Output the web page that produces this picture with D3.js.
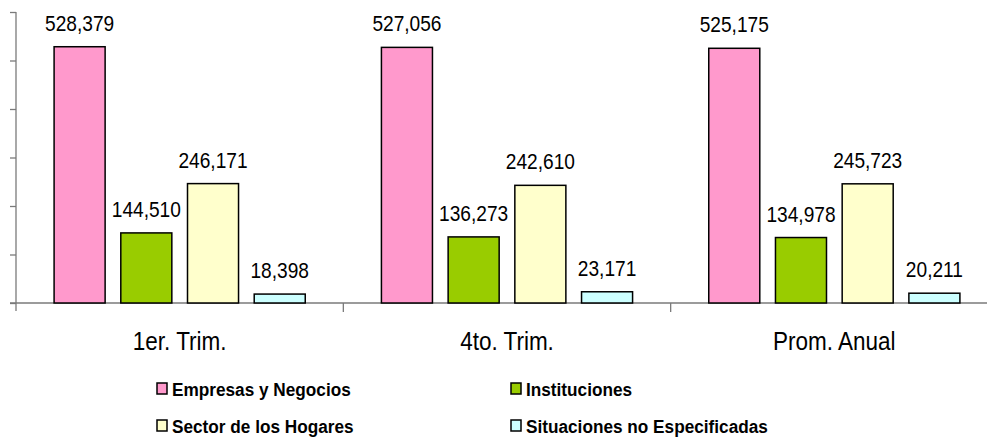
<!DOCTYPE html>
<html><head><meta charset="utf-8">
<script src="https://cdn.jsdelivr.net/npm/d3@7"></script>
<style>body{margin:0;background:#fff}svg{display:block}</style>
</head><body>
<script>
const categories = ["1er. Trim.", "4to. Trim.", "Prom. Anual"];
const seriesNames = ["Empresas y Negocios", "Instituciones", "Sector de los Hogares", "Situaciones no Especificadas"];
const empresas = [528379, 527056, 525175];
const instituciones = [144510, 136273, 134978];
const hogares = [246171, 242610, 245723];
const situaciones = [18398, 23171, 20211];
const yTicks = [0, 100000, 200000, 300000, 400000, 500000, 600000];
const colors = ["#FF99CC", "#99CC00", "#FFFFCC", "#CCFFFF"];

const seriesValues = [empresas, instituciones, hogares, situaciones];
const W = 987, H = 439;
const svg = d3.select("body").append("svg").attr("width", W).attr("height", H);

const y = d3.scaleLinear().domain([0, 600000]).range([303, 12]);
const x = d3.scaleBand().domain(categories).range([16, 998]).paddingInner(0).paddingOuter(0);
const xs = d3.scaleBand().domain(seriesNames).range([0, x.bandwidth()]).paddingInner(0.235).paddingOuter(0.571);

const axisColor = "#7a7a7a";
// y axis
const yAxis = svg.append("g").attr("transform", "translate(16,0)")
  .call(d3.axisLeft(y).tickValues(yTicks).tickFormat("").tickSize(6).tickSizeOuter(0));
yAxis.select(".domain").remove();
yAxis.selectAll(".tick line").attr("stroke", axisColor).attr("stroke-width", 1.3);
svg.append("line").attr("x1", 16).attr("x2", 16).attr("y1", y(600000)).attr("y2", y(0) + 8)
  .attr("stroke", axisColor).attr("stroke-width", 1.3);
// baseline
svg.append("line").attr("x1", 10).attr("x2", W).attr("y1", y(0)).attr("y2", y(0))
  .attr("stroke", axisColor).attr("stroke-width", 1.3);
// category separators
categories.slice(1).forEach(c => {
  svg.append("line").attr("x1", x(c)).attr("x2", x(c)).attr("y1", y(0)).attr("y2", y(0) + 9)
    .attr("stroke", axisColor).attr("stroke-width", 1.3);
});

// bars
categories.forEach((c, ci) => {
  const g = svg.append("g").attr("transform", `translate(${x(c)},0)`);
  seriesNames.forEach((s, si) => {
    const v = seriesValues[si][ci];
    g.append("rect").attr("x", xs(s)).attr("width", xs.bandwidth())
      .attr("y", y(v)).attr("height", y(0) - y(v))
      .attr("fill", colors[si]).attr("stroke", "#000").attr("stroke-width", 1.5);
    const cx = xs(s) + xs.bandwidth() / 2;
    g.append("text").attr("transform", `translate(${cx},${y(v) - 16}) scale(0.85,1)`)
      .attr("text-anchor", "middle").attr("font-family", "Liberation Sans, Arial, sans-serif")
      .attr("font-size", 22.5).attr("fill", "#000").text(d3.format(",")(v));
  });
  svg.append("text").attr("transform", `translate(${x(c) + x.bandwidth() / 2},350) scale(0.9,1)`)
    .attr("text-anchor", "middle").attr("font-family", "Liberation Sans, Arial, sans-serif")
    .attr("font-size", 25).attr("fill", "#000").text(c);
});

// legend
const legendPos = [[157, 383], [511, 383], [157, 420], [511, 420]];
seriesNames.forEach((s, i) => {
  const [lx, ly] = legendPos[i];
  svg.append("rect").attr("x", lx).attr("y", ly).attr("width", 10).attr("height", 11)
    .attr("fill", colors[i]).attr("stroke", "#000").attr("stroke-width", 1.5);
  svg.append("text").attr("transform", `translate(${lx + 15},${ly + 13}) scale(0.93,1)`)
    .attr("font-family", "Liberation Sans, Arial, sans-serif").attr("font-weight", "bold")
    .attr("font-size", 18.5).attr("fill", "#000").text(s);
});
</script>
</body></html>
